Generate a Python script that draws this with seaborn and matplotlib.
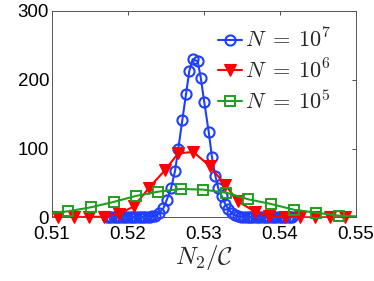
import pandas as pd
import matplotlib.pyplot as plt
import seaborn as sns
from matplotlib.lines import Line2D

# N = 10^7 (blue circles)
x_n7 = [0.5172, 0.5175, 0.5178, 0.5181, 0.5184, 0.5187, 0.5190, 0.5193, 0.5196, 0.5199,
        0.5202, 0.5205, 0.5208, 0.5211, 0.5214, 0.5217, 0.5220, 0.5223, 0.5226, 0.5229,
        0.5232, 0.52355, 0.52412, 0.52465, 0.52509, 0.52566, 0.52618, 0.52662, 0.52714,
        0.52763, 0.52807, 0.52851, 0.52917, 0.52957, 0.53004, 0.53062, 0.53105, 0.53150,
        0.53188, 0.53232, 0.53276, 0.53320, 0.53364, 0.5341, 0.5345, 0.5349,
        0.5353, 0.5356, 0.5359, 0.5362, 0.5365, 0.5368, 0.5371, 0.5374, 0.5377, 0.5380,
        0.5383, 0.5386, 0.5389, 0.5392, 0.5395, 0.5398, 0.5401, 0.5404, 0.5407, 0.5410,
        0.5413, 0.5416]
y_n7 = [0, 0, 0, 0, 0, 0, 0, 0, 0, 0,
        0, 0, 0, 0, 0.1, 0.1, 0.2, 0.3, 0.5, 0.8,
        1.2, 2, 6, 13, 25, 42, 67, 100, 141,
        179, 213, 230, 227, 203, 167, 124, 87, 60,
        42, 31, 20, 12, 6, 3, 1.5, 0.8,
        0.5, 0.4, 0.3, 0.2, 0.1, 0.1, 0, 0, 0, 0,
        0, 0, 0, 0, 0, 0, 0, 0, 0, 0,
        0, 0]

# N = 10^6 (red triangles)
x_n6 = [0.5108, 0.5129, 0.5149, 0.5169, 0.5188, 0.5208, 0.5227, 0.5249, 0.5266, 0.5286,
        0.5308, 0.5328, 0.5345, 0.5367, 0.5386, 0.5406, 0.5426, 0.5446, 0.5466, 0.5486]
y_n6 = [0, 0, 0.5, 1, 5, 16, 42, 69, 93, 95,
        74, 47, 23, 8, 2, 0.5, 0, 0, 0, 0]
edge_n6 = ([0.5088, 0.5506], [0, 0])

# N = 10^5 (green squares)
x_n5 = [0.5121, 0.5151, 0.5181, 0.5210, 0.5240, 0.5270, 0.5299, 0.5329, 0.5358,
        0.5388, 0.5418, 0.5447, 0.5477]
y_n5 = [8.7, 14.5, 22.3, 31, 37.3, 41.2, 40.2, 35.9, 26.2, 19.4, 11.1, 6.8, 2.4]
edge_n5 = ([0.5092, 0.5507], [5.5, 1.0])

labels = [r'$N\;=\;10^7$', r'$N\;=\;10^6$', r'$N\;=\;10^5$']
colors = ['#1f3fff', '#ff0000', '#1f9e1f']

sns.set_style('white')
plt.rcParams['font.family'] = ['Liberation Sans', 'DejaVu Sans']
plt.rcParams['mathtext.fontset'] = 'cm'

fig = plt.figure(figsize=(3.74, 2.81), dpi=100)
ax = fig.add_axes([0.139, 0.2267, 0.813, 0.7342])

series = [
    (x_n7, y_n7, None, dict(marker='o', ms=7.3, mfc='none', mew=1.5)),
    (x_n6, y_n6, edge_n6, dict(marker='v', ms=8.5, mfc=colors[1], mew=0.8)),
    (x_n5, y_n5, edge_n5, dict(marker='s', ms=6.5, mfc='none', mew=1.4)),
]

handles = []
for i, (xs, ys, edge, mk) in enumerate(series):
    lx, ly = list(xs), list(ys)
    if edge is not None:
        lx = [edge[0][0]] + lx + [edge[0][1]]
        ly = [edge[1][0]] + ly + [edge[1][1]]
    df_line = pd.DataFrame({'x': lx, 'y': ly})
    sns.lineplot(data=df_line, x='x', y='y', ax=ax, sort=False, color=colors[i],
                 lw=1.5, zorder=2 + i)
    df_pts = pd.DataFrame({'x': xs, 'y': ys})
    sns.lineplot(data=df_pts, x='x', y='y', ax=ax, sort=False, color=colors[i],
                 linestyle='none', mec=colors[i], clip_on=False, zorder=2 + i, **mk)
    handles.append(Line2D([], [], color=colors[i], lw=1.5, mec=colors[i], **mk))

ax.set_xlim(0.51, 0.55)
ax.set_ylim(0, 300)
ax.set_xticks([0.51, 0.52, 0.53, 0.54, 0.55])
ax.set_xticklabels(['0.51', '0.52', '0.53', '0.54', '0.55'])
ax.set_yticks([0, 100, 200, 300])
ax.tick_params(direction='in', top=True, right=True, length=3, width=0.6,
               labelsize=13.5, colors='#333333', labelcolor='black')
ax.tick_params(axis='y', pad=2)
ax.tick_params(axis='x', pad=6)
for sp in ax.spines.values():
    sp.set_linewidth(0.7)
    sp.set_color('#555555')

ax.set_xlabel(r'$N_2/\mathcal{C}$', fontsize=18, labelpad=0)
ax.set_ylabel('')

ax.legend(handles, labels, loc='upper left', bbox_to_anchor=(0.546, 0.915),
          frameon=False, fontsize=16, handlelength=1.1, handletextpad=0.1,
          labelspacing=0.3, borderaxespad=0, borderpad=0)

fig.savefig('out.png', dpi=100)
